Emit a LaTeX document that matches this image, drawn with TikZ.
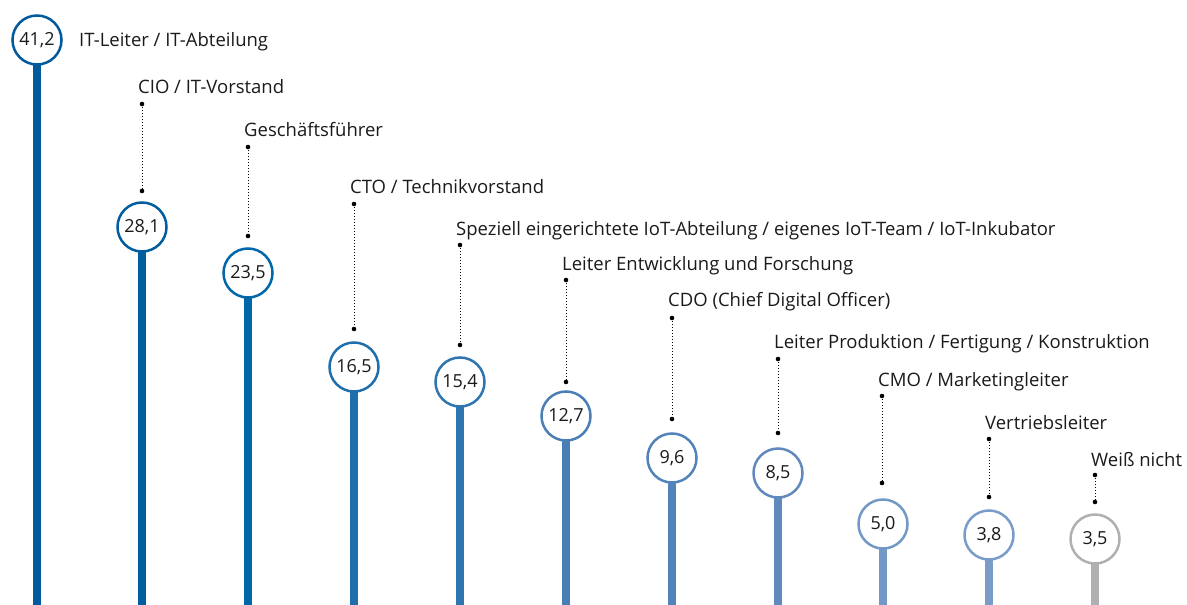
\documentclass[tikz,border=0pt]{standalone}
\usepackage{fontspec}
\setmainfont{Open Sans}
\definecolor{cA}{HTML}{005A9C}
\definecolor{cB}{HTML}{005E9F}
\definecolor{cC}{HTML}{0068A8}
\definecolor{cD}{HTML}{1F6FAD}
\definecolor{cE}{HTML}{2F75B0}
\definecolor{cF}{HTML}{4A7FB5}
\definecolor{cG}{HTML}{5283B9}
\definecolor{cH}{HTML}{6289BD}
\definecolor{cI}{HTML}{7299C6}
\definecolor{cJ}{HTML}{799CC9}
\definecolor{cK}{HTML}{B0B0B2}
\definecolor{txt}{HTML}{1A1A1A}
\begin{document}
\begin{tikzpicture}[x=1pt,y=-1pt,
  val/.style={circle,minimum size=49pt,inner sep=0pt,line width=2.5pt,fill=white,text=txt,font=\fontsize{18}{18}\selectfont},
  bar/.style={line width=8pt},
  dotline/.style={line width=1pt,dash pattern=on 1pt off 2pt,black},
  lab/.style={anchor=base west,inner sep=0pt,text=txt,font=\fontsize{18.5}{18.5}\selectfont},
  enddot/.style={fill=black}]
\useasboundingbox (0,0) rectangle (1187,605);
% 1
\coordinate (b1) at (37,605);
\draw[bar,cA] (37,40) -- (b1);
\node[val,draw=cA] (v1) at (37,40) {41,2};
\node[lab] (l1) at (79,46.5) {IT-Leiter / IT-Abteilung};
% 2
\coordinate (b2) at (142,605);
\draw[bar,cB] (142,227) -- (b2);
\node[val,draw=cB] (v2) at (142,227) {28,1};
\coordinate (t2) at (142,104); \coordinate (d2) at (142,191);
\draw[dotline] (t2) -- (d2); \fill[enddot] (t2) circle (2.3); \fill[enddot] (d2) circle (2.3);
\node[lab] (l2) at (138,93.5) {CIO / IT-Vorstand};
% 3
\coordinate (b3) at (248,605);
\draw[bar,cC] (248,273) -- (b3);
\node[val,draw=cC] (v3) at (248,273) {23,5};
\coordinate (t3) at (248,147); \coordinate (d3) at (248,236);
\draw[dotline] (t3) -- (d3); \fill[enddot] (t3) circle (2.3); \fill[enddot] (d3) circle (2.3);
\node[lab] (l3) at (244,136.5) {Geschäftsführer};
% 4
\coordinate (b4) at (354,605);
\draw[bar,cD] (354,367) -- (b4);
\node[val,draw=cD] (v4) at (354,367) {16,5};
\coordinate (t4) at (354,204); \coordinate (d4) at (354,329);
\draw[dotline] (t4) -- (d4); \fill[enddot] (t4) circle (2.3); \fill[enddot] (d4) circle (2.3);
\node[lab] (l4) at (350,193.5) {CTO / Technikvorstand};
% 5
\coordinate (b5) at (460,605);
\draw[bar,cE] (460,382) -- (b5);
\node[val,draw=cE] (v5) at (460,382) {15,4};
\coordinate (t5) at (460,245); \coordinate (d5) at (460,345);
\draw[dotline] (t5) -- (d5); \fill[enddot] (t5) circle (2.3); \fill[enddot] (d5) circle (2.3);
\node[lab] (l5) at (456,235.5) {Speziell eingerichtete IoT-Abteilung / eigenes IoT-Team / IoT-Inkubator};
% 6
\coordinate (b6) at (566,605);
\draw[bar,cF] (566,416) -- (b6);
\node[val,draw=cF] (v6) at (566,416) {12,7};
\coordinate (t6) at (566,280); \coordinate (d6) at (566,382);
\draw[dotline] (t6) -- (d6); \fill[enddot] (t6) circle (2.3); \fill[enddot] (d6) circle (2.3);
\node[lab] (l6) at (562,270.5) {Leiter Entwicklung und Forschung};
% 7
\coordinate (b7) at (672,605);
\draw[bar,cG] (672,458) -- (b7);
\node[val,draw=cG] (v7) at (672,458) {9,6};
\coordinate (t7) at (672,318); \coordinate (d7) at (672,419);
\draw[dotline] (t7) -- (d7); \fill[enddot] (t7) circle (2.3); \fill[enddot] (d7) circle (2.3);
\node[lab] (l7) at (668,306.5) {CDO (Chief Digital Officer)};
% 8
\coordinate (b8) at (778,605);
\draw[bar,cH] (778,473) -- (b8);
\node[val,draw=cH] (v8) at (778,473) {8,5};
\coordinate (t8) at (778,359); \coordinate (d8) at (778,433);
\draw[dotline] (t8) -- (d8); \fill[enddot] (t8) circle (2.3); \fill[enddot] (d8) circle (2.3);
\node[lab] (l8) at (774,348.5) {Leiter Produktion / Fertigung / Konstruktion};
% 9
\coordinate (b9) at (883,605);
\draw[bar,cI] (883,524) -- (b9);
\node[val,draw=cI] (v9) at (883,524) {5,0};
\coordinate (t9) at (882,396); \coordinate (d9) at (882,483);
\draw[dotline] (t9) -- (d9); \fill[enddot] (t9) circle (2.3); \fill[enddot] (d9) circle (2.3);
\node[lab] (l9) at (878,386.5) {CMO / Marketingleiter};
% 10
\coordinate (b10) at (989,605);
\draw[bar,cJ] (989,535) -- (b10);
\node[val,draw=cJ] (v10) at (989,535) {3,8};
\coordinate (t10) at (989,439); \coordinate (d10) at (989,497);
\draw[dotline] (t10) -- (d10); \fill[enddot] (t10) circle (2.3); \fill[enddot] (d10) circle (2.3);
\node[lab] (l10) at (985,429.5) {Vertriebsleiter};
% 11
\coordinate (b11) at (1095,605);
\draw[bar,cK] (1095,539) -- (b11);
\node[val,draw=cK] (v11) at (1095,539) {3,5};
\coordinate (t11) at (1095,475); \coordinate (d11) at (1095,502);
\draw[dotline] (t11) -- (d11); \fill[enddot] (t11) circle (2.3); \fill[enddot] (d11) circle (2.3);
\node[lab] (l11) at (1091,466.5) {Weiß nicht};
\end{tikzpicture}
\end{document}
